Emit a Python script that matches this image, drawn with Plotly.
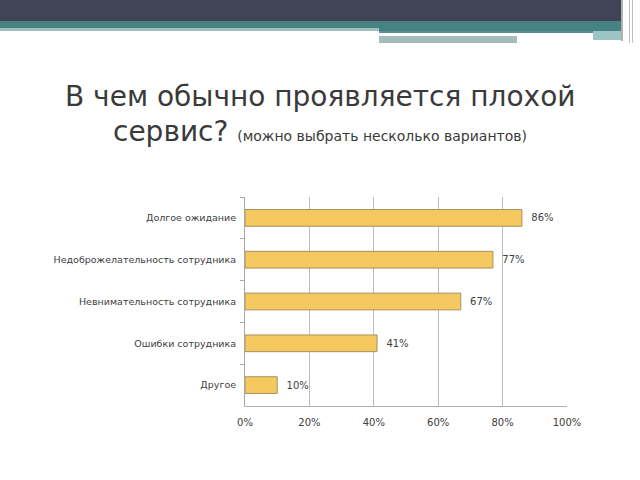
import plotly.graph_objects as go

categories = ["Долгое ожидание", "Недоброжелательность сотрудника",
              "Невнимательность сотрудника", "Ошибки сотрудника", "Другое"]
values = [86, 77, 67, 41, 10]
x_ticks = [0, 20, 40, 60, 80, 100]
x_tick_labels = ["0%", "20%", "40%", "60%", "80%", "100%"]

W, H = 640, 480
L, R, T, B = 245, 567, 197, 406  # plot area in pixels


def px(x):
    return (x - L) / (R - L)


def py(y):
    return (B - y) / (B - T)


fig = go.Figure()
fig.add_trace(go.Bar(
    x=values, y=categories, orientation="h", width=0.4,
    marker=dict(color="#F5C860", line=dict(color="#A89060", width=1)),
    text=[f"  {v}%" for v in values], textposition="outside",
    textfont=dict(family="DejaVu Sans", size=10, color="#404040"),
    cliponaxis=False,
))

shapes = []


def rect(x0, y0, x1, y1, color):
    shapes.append(dict(type="rect", xref="paper", yref="paper",
                       x0=px(x0), x1=px(x1), y0=py(y1), y1=py(y0),
                       fillcolor=color, line=dict(width=0), layer="above"))


# header decoration
rect(0, 0, 622, 21, "#414356")
rect(0, 21, 622, 31, "#468282")
rect(0, 28, 379, 31, "#9ec0c0")
rect(379, 31, 622, 33, "#5a9090")
rect(379, 33, 593, 36, "#ffffff")
rect(593, 31, 622, 40, "#9cc4c4")
rect(379, 36, 517, 43, "#a3bcbc")
rect(621, 0, 623, 41, "#b0b0b0")
rect(629, 0, 630, 43, "#c0c0c0")
rect(632, 0, 633, 43, "#c0c0c0")

annotations = [
    dict(text="В чем обычно проявляется плохой", xref="paper", yref="paper",
         x=px(320), y=py(97), xanchor="center", yanchor="middle", showarrow=False,
         font=dict(family="DejaVu Sans", size=28, color="#3a3a3a")),
    dict(text="сервис? <span style='font-size:14px'>(можно выбрать несколько вариантов)</span>",
         xref="paper", yref="paper",
         x=px(320), y=py(131), xanchor="center", yanchor="middle", showarrow=False,
         font=dict(family="DejaVu Sans", size=28, color="#3a3a3a")),
]

fig.update_layout(
    width=W, height=H,
    margin=dict(l=L, r=W - R, t=T, b=H - B, pad=0),
    paper_bgcolor="white", plot_bgcolor="white",
    showlegend=False, shapes=shapes, annotations=annotations,
    xaxis=dict(range=[0, 100], tickvals=x_ticks, ticktext=x_tick_labels,
               showgrid=True, gridcolor="#bdbdbd", gridwidth=1,
               showline=True, linecolor="#b0b0b0", linewidth=1, zeroline=False,
               ticks="", ticklabelstandoff=7,
               tickfont=dict(family="DejaVu Sans", size=10, color="#404040"),
               fixedrange=True),
    yaxis=dict(categoryorder="array", categoryarray=categories, autorange="reversed",
               showline=True, linecolor="#a8a8a8", linewidth=1,
               ticks="outside", tickson="boundaries", ticklen=4, tickcolor="#a8a8a8",
               ticklabelstandoff=6,
               tickfont=dict(family="DejaVu Sans", size=9.5, color="#404040"),
               showgrid=False, fixedrange=True),
    font=dict(family="DejaVu Sans"),
)

fig.write_html("out.html")
